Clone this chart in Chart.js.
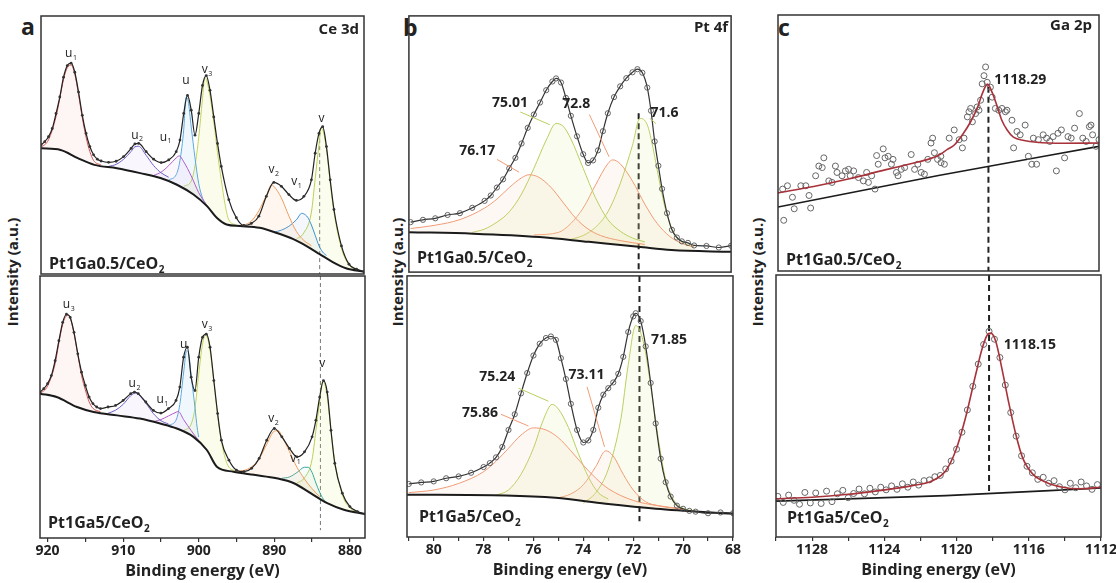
<!DOCTYPE html>
<html>
<head>
<meta charset="utf-8">
<script src="https://cdn.jsdelivr.net/npm/chart.js@4.4.1/dist/chart.umd.min.js"></script>
<style>
  html, body { margin: 0; padding: 0; background: #fff; }
  body { position: relative; width: 1116px; height: 583px; overflow: hidden; font-family: "Open Sans", sans-serif; color: #222; }
  canvas { position: absolute; }
  .letter { position: absolute; font-weight: bold; font-size: 23px; line-height: 1; }
  .ytitle { position: absolute; font-weight: bold; font-size: 15px; white-space: nowrap; transform: translate(-50%, -50%) rotate(-90deg); }
</style>
</head>
<body>
<div class="letter" style="left:21px;top:15px">a</div>
<div class="letter" style="left:403px;top:16px">b</div>
<div class="letter" style="left:778px;top:16px">c</div>
<div class="ytitle" style="left:12px;top:272px">Intensity (a.u.)</div>
<div class="ytitle" style="left:397px;top:272px">Intensity (a.u.)</div>
<div class="ytitle" style="left:757px;top:272px">Intensity (a.u.)</div>
<script>
// ---- panel a: Ce 3d ----
const ceRange = [878, 921];
const ceX = [921, 920.5, 920, 919.5, 919, 918.5, 918, 917.5, 917, 916.5,
  916, 915.5, 915, 914.5, 914, 913.5, 913, 912, 911, 910,
  909, 908.5, 908, 907, 906, 905, 904, 903, 902.5, 902,
  901.5, 901, 900.5, 900, 899.5, 899, 898.5, 898, 897.5, 897,
  896, 895, 894, 893, 892, 891, 890, 889, 888, 887,
  886, 885, 884.5, 884, 883.5, 883, 882.5, 882, 881, 880, 879, 878];
const ceTopFit = [50.0, 51.3, 53.2, 56.4, 62.2, 68.6, 76.3, 80.8, 81.7, 78.2,
  70.5, 61.5, 54.5, 49.4, 46.2, 44.5, 43.8, 43.3, 43.7, 45.5,
  48.7, 50.4, 50.6, 47.4, 44.5, 43.2, 44.2, 47.4, 51.9, 62.2,
  69.2, 63.5, 53.8, 62.2, 73.1, 76.9, 71.2, 60.9, 50.6, 41.7,
  28.8, 21.8, 18.8, 19.6, 22.4, 30.1, 35.5, 34.0, 30.8, 28.5,
  30.1, 36.5, 46.8, 54.5, 57.1, 49.4, 36.5, 25.0, 10.9, 3.8, 1.9, 0.9];
const ceBotFit = [55.7, 57.0, 58.9, 62.0, 67.7, 75.3, 82.3, 85.4, 84.2, 78.5,
  70.3, 63.3, 58.2, 53.8, 51.3, 50.0, 49.4, 50.0, 50.6, 52.5,
  55.1, 55.7, 55.1, 51.9, 48.7, 47.7, 49.4, 52.5, 57.6, 69.0,
  72.8, 61.4, 56.3, 69.0, 76.6, 77.8, 72.8, 60.1, 47.5, 37.3,
  29.7, 25.9, 25.3, 26.6, 30.4, 37.3, 41.8, 38.6, 34.2, 31.0,
  32.9, 38.6, 44.9, 53.8, 60.1, 55.7, 41.1, 28.5, 17.1, 12.0, 10.1, 9.2];
const ceTopBgX = [921, 918.4, 916.1, 913.9, 910.9, 907.8, 905.1, 902.9, 900.7, 898.9, 897.6, 896.3, 894.5, 891.9, 889.7, 887.4, 885.7, 883.9, 882.1, 880.4, 878];
const ceTopBg = [48.7, 48.1, 44.9, 42.3, 41.0, 39.1, 37.2, 34.6, 30.8, 26.3, 21.8, 19.2, 18.6, 17.9, 16.0, 13.5, 10.9, 7.7, 4.5, 2.2, 0.9];
const ceBotBgX = [921, 918.8, 916.1, 913.9, 910.8, 907.8, 905.1, 902.9, 900.7, 898.9, 897.6, 895.4, 892.7, 889.7, 887.4, 885.2, 883, 880.8, 878];
const ceBotBg = [55.1, 53.8, 50.0, 48.1, 46.8, 45.6, 43.7, 41.8, 38.6, 33.5, 27.2, 25.3, 24.1, 22.8, 20.9, 17.1, 13.3, 10.8, 9.2];

const ceTopU3X = [921, 920, 919, 918.5, 918, 917.5, 917, 916.5, 916, 915.5, 915, 914.5, 914, 913];
const ceTopU3 = [49, 52, 61, 68, 75.5, 80, 81, 77.5, 69.5, 60.5, 53, 47.5, 44, 42.2];
const ceTopU2X = [912, 911, 910, 909, 908.5, 908, 907, 906, 905, 904];
const ceTopU2 = [41.7, 42.5, 44.5, 47.5, 49.3, 49.5, 46, 42, 39.2, 37.5];
const ceTopU1X = [906, 905, 904, 903, 902.6, 902, 901, 900, 899, 898.5];
const ceTopU1 = [38.2, 39.5, 42, 45, 45.8, 43.5, 38, 31.5, 27, 25];
const ceTopUX = [904, 903, 902.5, 902, 901.7, 901.4, 901, 900.5, 900, 899.5, 899];
const ceTopU = [36.5, 38.5, 44, 56, 68.5, 67, 57, 45, 35, 29.5, 26.8];
const ceTopV3X = [902, 901, 900.5, 900, 899.5, 899.2, 899, 898.5, 898, 897.5, 897, 896.5, 896, 895];
const ceTopV3 = [34, 36, 42, 53, 68, 76, 75.5, 69, 59, 47, 36.5, 27, 21, 19];
const ceTopV2X = [895, 894, 893, 892, 891, 890.3, 890, 889, 888, 887, 886, 885];
const ceTopV2 = [18.7, 19, 20.5, 24.5, 30.5, 34.5, 34, 29.5, 22.5, 16.5, 13, 11];
const ceTopV1X = [890, 889, 888, 887, 886.3, 886, 885.5, 885, 884.5, 884, 883.5, 883];
const ceTopV1 = [16.2, 17, 18.5, 21, 23.5, 23.3, 22, 19, 15, 11, 8.5, 7.2];
const ceTopVX = [887, 886, 885, 884.5, 884, 883.7, 883.5, 883, 882.5, 882, 881, 880, 879];
const ceTopV = [13.5, 16, 24, 37, 50, 56.5, 56, 48.5, 35.5, 24, 10, 3.5, 1.6];

const ceBotU3X = [921, 920, 919, 918.5, 918, 917.5, 917.2, 917, 916.5, 916, 915.5, 915, 914.5, 914, 913];
const ceBotU3 = [55, 58, 66.5, 74.5, 81.5, 84.8, 85, 84, 78, 70, 62, 56.5, 52, 49.5, 48.2];
const ceBotU2X = [912, 911, 910, 909, 908.4, 908, 907, 906, 905, 904];
const ceBotU2 = [47.6, 48.8, 51, 54.3, 55.3, 54.8, 51.5, 47.5, 44.8, 43.5];
const ceBotU1X = [906, 905, 904, 903, 902.7, 902, 901, 900, 899];
const ceBotU1 = [44.4, 45.2, 46.6, 48, 48.3, 45.2, 41, 37.2, 34];
const ceBotUX = [904, 903, 902.5, 902, 901.6, 901.3, 901, 900.5, 900.2, 900];
const ceBotU = [43, 45, 51, 63, 71.5, 70, 62, 50, 42, 38.5];
const ceBotV3X = [902, 901, 900.5, 900, 899.5, 899.1, 898.8, 898.5, 898, 897.5, 897, 896.5, 896, 895];
const ceBotV3 = [41, 43.5, 49.5, 62.5, 74, 77.3, 76, 71.5, 60, 47, 37, 30.5, 27, 25.6];
const ceBotV2X = [895, 894, 893, 892, 891, 890, 889.5, 889, 888, 887, 886, 885, 884];
const ceBotV2 = [25.4, 25.8, 27.2, 30.2, 35.8, 40.8, 41, 39, 33, 27, 22.5, 18.8, 15.8];
const ceBotV1X = [889, 888, 887, 886, 885.5, 885, 884.5, 884, 883.5, 883];
const ceBotV1 = [22.8, 23.3, 25, 27, 27, 25, 21, 17.5, 14.8, 13.4];
const ceBotVX = [887, 886, 885, 884.5, 884, 883.7, 883.5, 883, 882.5, 882, 881, 880, 879];
const ceBotV = [21, 23, 30, 41, 52, 59, 59.5, 54, 41, 29.5, 16.5, 11.5, 9.8];
const ceRefE = 883.9;

// ---- panel b: Pt 4f ----
const ptRange = [68, 81.07];
const ptTopX = [81, 80.5, 80, 79.5, 79, 78.5, 78, 77.75, 77.5, 77.25,
  77, 76.75, 76.5, 76.25, 76, 75.75, 75.5, 75.25, 75.1, 74.9,
  74.7, 74.5, 74.25, 74, 73.8, 73.6, 73.4, 73.2, 73, 72.75,
  72.5, 72.25, 72, 71.8, 71.6, 71.4, 71.25, 71.1, 70.95, 70.8,
  70.6, 70.4, 70.2, 70, 69.75, 69.5, 69, 68.5, 68];
const ptTopFit = [19.5, 20.4, 21.0, 22.3, 23.0, 25.1, 27.8, 29.9, 33.0, 36.2,
  40.5, 44.6, 50.2, 56.3, 61.5, 66.2, 71.0, 74.4, 75.6, 74.0,
  68.0, 61.0, 53.0, 46.0, 42.6, 43.6, 47.5, 55.0, 62.0, 68.3,
  72.5, 75.7, 78.0, 79.2, 77.8, 72.0, 63.0, 51.0, 41.5, 32.5,
  23.0, 16.5, 13.5, 12.0, 11.4, 10.4, 10.2, 9.6, 10.3];
const ptBotX = [81, 80.5, 80, 79.5, 79, 78.5, 78, 77.75, 77.5, 77.25,
  77, 76.75, 76.5, 76.25, 76, 75.75, 75.5, 75.3, 75.1, 74.9,
  74.7, 74.5, 74.25, 74, 73.8, 73.6, 73.4, 73.2, 73, 72.8,
  72.6, 72.4, 72.2, 72, 71.9, 71.7, 71.5, 71.3, 71.1, 70.9,
  70.7, 70.5, 70.25, 70, 69.75, 69.5, 69, 68.5, 68];
const ptBotFit = [20.3, 20.9, 21.3, 22.5, 23.2, 24.6, 26.8, 28.3, 30.5, 34.5,
  41.0, 47.0, 55.0, 62.8, 69.5, 74.0, 76.2, 76.8, 75.5, 68.5,
  60.5, 51.0, 41.0, 36.2, 37.0, 41.0, 49.5, 54.5, 57.0, 59.2,
  62.5, 69.0, 78.5, 84.5, 85.7, 82.7, 73.0, 59.0, 43.5, 30.0,
  21.0, 15.5, 12.0, 10.8, 10.0, 9.7, 9.1, 9.4, 9.1];
const ptTopBgX = [81.07, 78.46, 75.78, 73.77, 71.76, 70.42, 68];
const ptTopBg = [15.6, 15.0, 13.7, 11.8, 9.9, 8.6, 7.9];
const ptBotBgX = [81.07, 77.12, 75.11, 73.1, 71.09, 68];
const ptBotBg = [16.2, 15.9, 15.0, 12.7, 10.8, 8.9];

const ptTop7617X = [81, 80, 79, 78, 77.5, 77, 76.5, 76.2, 75.8, 75.3, 74.8, 74.3, 73.8, 73.3, 72.5, 71.5];
const ptTop7617 = [17, 18.3, 20.5, 25, 28.5, 33, 36.8, 38, 37, 33, 27, 21, 16.8, 14.3, 12.3, 10.8];
const ptTop7501X = [78.5, 78, 77.5, 77, 76.5, 76, 75.5, 75.1, 74.8, 74.5, 74, 73.5, 73, 72.5, 72, 71.5];
const ptTop7501 = [15.5, 16.8, 19.5, 23.5, 30.5, 40.5, 51.5, 58, 56.8, 52, 40.5, 29, 20.5, 16, 13.3, 11.8];
const ptTop728X = [76, 75, 74.5, 74, 73.5, 73, 72.8, 72.5, 72, 71.5, 71, 70.5, 70, 69.5];
const ptTop728 = [14.5, 15.5, 19, 25, 34, 42.3, 43.8, 42.3, 35.5, 26.5, 19, 14, 11.2, 9.8];
const ptTop716X = [74.5, 74, 73.5, 73, 72.5, 72, 71.7, 71.4, 71.2, 71, 70.7, 70.4, 70, 69.5];
const ptTop716 = [12.8, 14.3, 17.5, 23.5, 34.5, 49.5, 60, 57.5, 50, 40, 26, 17, 11.8, 9.8];

const ptBot7586X = [81, 80, 79, 78, 77.5, 77, 76.5, 76, 75.5, 75, 74.5, 74, 73.5, 73, 72, 71, 70];
const ptBot7586 = [17, 18, 20.5, 25, 29, 34, 39, 41.8, 41, 38, 33, 27.5, 22.5, 18.5, 14, 12, 10.8];
const ptBot7524X = [77.5, 77, 76.5, 76, 75.6, 75.25, 75, 74.6, 74.2, 73.8, 73.4, 73];
const ptBot7524 = [16, 18, 24, 34, 45, 50.8, 49, 42, 32, 23, 17, 14.5];
const ptBot7311X = [75, 74.5, 74, 73.5, 73.1, 72.8, 72.4, 72, 71.5, 71, 70];
const ptBot7311 = [15, 16.5, 20, 27, 33, 31, 24, 18, 13.5, 12, 10.5];
const ptBot7185X = [74, 73.5, 73, 72.5, 72.2, 71.9, 71.6, 71.3, 71, 70.7, 70.4, 70, 69.5];
const ptBot7185 = [13, 17, 26, 45, 66, 81, 75, 58, 38, 22, 14.5, 11, 10];
const ptRefE = 71.75;

// ---- panel c: Ga 2p ----
const gaRange = [1112, 1130];
const gaTopFitX = [1130, 1128, 1126, 1124, 1122.5, 1121.5, 1121, 1120.5, 1120.1, 1119.6, 1119.2, 1118.8, 1118.55, 1118.25, 1118, 1117.7, 1117.45, 1117.15, 1116.8, 1116.2, 1115.5, 1114, 1112];
const gaTopFit = [30.5, 33.0, 36.0, 39.5, 42.0, 43.8, 45.2, 47.5, 49.3, 53.8, 58.3, 64.1, 69.2, 73.0, 69.9, 64.1, 58.9, 55.1, 52.3, 51.0, 50.3, 49.9, 50.0];
const gaTopBgX = [1130, 1121, 1112];
const gaTopBg = [25.0, 37.3, 48.7];
const gaTopPtX = [1129.74, 1129.68, 1129.47, 1129.19, 1129.09, 1128.72, 1128.44, 1128.26, 1128.17, 1127.89,
  1127.71, 1127.52, 1127.43, 1127.15, 1126.97, 1126.78, 1126.69, 1126.41, 1126.22, 1126.04,
  1125.95, 1125.76, 1125.49, 1125.21, 1125.03, 1124.93, 1124.75, 1124.56, 1124.47, 1124.38,
  1124.1, 1124.0, 1123.82, 1123.64, 1123.55, 1123.36, 1123.27, 1123.09, 1122.9, 1122.53,
  1122.34, 1122.16, 1121.97, 1121.79, 1121.6, 1121.42, 1121.33, 1121.23, 1121.05, 1120.87,
  1120.86, 1120.67, 1120.4, 1120.12, 1119.84, 1119.66, 1119.57, 1119.38, 1119.29, 1119.2,
  1119.1, 1118.92, 1118.83, 1118.73, 1118.64, 1118.55, 1118.45, 1118.36, 1118.27, 1118.09,
  1117.99, 1117.81, 1117.62, 1117.44, 1117.25, 1117.16, 1116.88, 1116.79, 1116.6, 1116.42,
  1116.14, 1115.96, 1115.77, 1115.68, 1115.5, 1115.4, 1115.13, 1114.94, 1114.76, 1114.57,
  1114.39, 1114.3, 1114.11, 1113.93, 1113.74, 1113.56, 1113.37, 1113.1, 1112.91, 1112.72,
  1112.54, 1112.45, 1112.36, 1112.17, 1112.0];
const gaTopPtY = [32.0, 19.8, 33.3, 28.8, 24.3, 33.3, 33.3, 29.5, 24.6, 37.2,
  41.0, 40.4, 44.2, 35.2, 34.6, 41.0, 38.5, 37.2, 39.1, 39.7,
  37.2, 39.1, 36.5, 35.2, 38.5, 34.6, 37.2, 32.0, 45.1, 41.7,
  47.7, 44.2, 44.8, 41.7, 43.6, 38.5, 37.2, 39.7, 40.4, 45.5,
  39.7, 41.7, 38.5, 37.8, 43.6, 50.0, 51.9, 46.2, 43.6, 44.8,
  42.3, 41.7, 51.9, 55.1, 51.3, 48.1, 51.9, 60.2, 62.2, 63.5,
  58.3, 61.5, 64.1, 62.8, 66.7, 73.1, 76.3, 79.7, 73.7, 71.8,
  67.9, 63.5, 62.8, 63.5, 62.2, 62.8, 58.9, 48.1, 54.5, 53.2,
  57.0, 44.8, 41.7, 51.9, 41.7, 51.3, 53.2, 51.9, 50.6, 52.5,
  39.1, 53.8, 55.1, 44.2, 52.5, 51.9, 55.8, 61.5, 51.9, 50.6,
  56.4, 57.0, 53.2, 48.7, 51.3];
const gaBotFitX = [1130, 1128, 1126.15, 1124.3, 1122.45, 1121.34, 1120.6, 1120.05, 1119.5, 1118.94, 1118.57, 1118.29, 1118.1, 1117.83, 1117.46, 1117.09, 1116.72, 1116.35, 1115.79, 1115.05, 1114.13, 1113.2, 1112];
const gaBotFit = [14.6, 15.2, 16.2, 17.7, 19.6, 21.5, 25.3, 32.9, 45.6, 62.0, 72.2, 77.2, 77.8, 74.7, 63.3, 50.6, 39.2, 30.4, 24.1, 20.9, 19.0, 18.4, 19.0];
const gaBotBgX = [1130, 1120.6, 1112];
const gaBotBg = [13.7, 15.8, 18.7];
const gaBotPtX = [1129.9, 1129.6, 1129.3, 1129.0, 1128.7, 1128.4, 1128.1, 1127.8, 1127.5, 1127.2,
  1126.9, 1126.6, 1126.3, 1126.0, 1125.7, 1125.4, 1125.1, 1124.8, 1124.5, 1124.2,
  1123.9, 1123.6, 1123.3, 1123.0, 1122.7, 1122.4, 1122.1, 1121.8, 1121.5, 1121.2,
  1120.9, 1120.6, 1120.3, 1120.0, 1119.7, 1119.4, 1119.1, 1118.8, 1118.5, 1118.2,
  1117.9, 1117.6, 1117.3, 1117.0, 1116.7, 1116.4, 1116.1, 1115.8, 1115.5, 1115.2,
  1114.9, 1114.6, 1114.3, 1114.0, 1113.7, 1113.4, 1113.1, 1112.8, 1112.5, 1112.2];
const gaBotPtY = [15.5, 13.2, 16.0, 14.0, 12.5, 17.0, 13.0, 16.8, 12.8, 17.5,
  13.5, 16.5, 17.8, 15.0, 16.6, 18.3, 16.5, 18.6, 17.2, 19.0,
  18.0, 19.5, 18.2, 20.3, 19.0, 21.0, 19.8, 21.5, 21.8, 23.0,
  23.5, 26.0, 29.0, 33.5, 40.0, 48.5, 57.5, 66.0, 73.5, 78.5,
  75.5, 68.5, 58.0, 47.5, 38.5, 31.0, 27.0, 24.5, 22.0, 22.8,
  20.5, 21.5, 19.2, 18.0, 20.5, 18.8, 21.0, 19.5, 18.2, 20.0];
const gaRefE = 1118.2;

// ---------------------------------------------------------------
const FONT = '"Open Sans", sans-serif';
Chart.defaults.font.family = FONT;
Chart.defaults.color = "#222";

const pts = (xs, ys) => xs.map((x, i) => ({ x: x, y: ys[i] }));

function curve(xs, ys, color, width, fillColor) {
  return {
    data: pts(xs, ys),
    borderColor: color,
    borderWidth: width,
    pointRadius: 0,
    cubicInterpolationMode: "monotone",
    fill: fillColor ? 1 : false,
    backgroundColor: fillColor || "transparent",
  };
}

function dash(x, y1, y2, color, width, pattern) {
  return {
    data: [{ x: x, y: y1 }, { x: x, y: y2 }],
    borderColor: color,
    borderWidth: width,
    borderDash: pattern,
    pointRadius: 0,
    fill: false,
  };
}

function drawText(ctx, main, sub, x, y, size, weight, align, color) {
  const subSize = Math.round(size * 0.62);
  ctx.font = `${weight} ${size}px ${FONT}`;
  const w1 = ctx.measureText(main).width;
  let w2 = 0;
  if (sub) {
    ctx.font = `${weight} ${subSize}px ${FONT}`;
    w2 = ctx.measureText(sub).width + 0.5;
  }
  const total = w1 + w2;
  const x0 = align === "center" ? x - total / 2 : align === "right" ? x - total : x;
  ctx.fillStyle = color;
  ctx.textAlign = "left";
  ctx.textBaseline = "alphabetic";
  ctx.font = `${weight} ${size}px ${FONT}`;
  ctx.fillText(main, x0, y);
  if (sub) {
    ctx.font = `${weight} ${subSize}px ${FONT}`;
    ctx.fillText(sub, x0 + w1 + 0.5, y + size * 0.22);
  }
}

function decoPlugin(notes) {
  return {
    id: "deco",
    afterDraw(chart) {
      const ctx = chart.ctx;
      const a = chart.chartArea;
      const sx = chart.scales.x;
      const sy = chart.scales.y;
      ctx.save();
      notes.forEach((n) => {
        if (n.lead) {
          ctx.strokeStyle = n.color;
          ctx.lineWidth = 1;
          ctx.beginPath();
          ctx.moveTo(sx.getPixelForValue(n.lead[0]), sy.getPixelForValue(n.lead[1]));
          ctx.lineTo(sx.getPixelForValue(n.lead[2]), sy.getPixelForValue(n.lead[3]));
          ctx.stroke();
          return;
        }
        let px, py;
        if (n.corner === "bl") {
          px = a.left + n.dx;
          py = a.bottom + n.dy;
        } else if (n.corner === "tr") {
          px = a.right + n.dx;
          py = a.top + n.dy;
        } else {
          px = sx.getPixelForValue(n.x);
          py = sy.getPixelForValue(n.y);
        }
        drawText(ctx, n.t, n.s, px, py, n.size, n.w || "bold", n.align || "center", "#222");
      });
      ctx.strokeStyle = "#333";
      ctx.lineWidth = 1.5;
      ctx.strokeRect(a.left, a.top, a.right - a.left, a.bottom - a.top);
      ctx.restore();
    },
  };
}

function addCanvas(left, top, w, h) {
  const c = document.createElement("canvas");
  c.width = w;
  c.height = h;
  c.style.left = left + "px";
  c.style.top = top + "px";
  c.style.width = w + "px";
  c.style.height = h + "px";
  document.body.appendChild(c);
  return c;
}

const AXIS_H = 43;

function subplot(frame, range, axis, datasets, notes) {
  const side = axis ? 22 : 3;
  const canvas = addCanvas(
    frame.l - side,
    frame.t - 3,
    frame.r - frame.l + 2 * side,
    frame.b - frame.t + 3 + (axis ? AXIS_H : 3)
  );
  return new Chart(canvas, {
    type: "line",
    data: { datasets: datasets },
    options: {
      responsive: false,
      animation: false,
      events: [],
      layout: { padding: { left: side, right: side, top: 3, bottom: axis ? 0 : 3 } },
      plugins: { legend: { display: false }, tooltip: { enabled: false } },
      scales: {
        x: {
          type: "linear",
          reverse: true,
          min: range[0],
          max: range[1],
          display: !!axis,
          border: { display: false },
          grid: { drawOnChartArea: false, drawTicks: true, tickLength: 4, color: "#333", lineWidth: 1.2 },
          ticks: axis
            ? {
                stepSize: axis.step,
                includeBounds: false,
                autoSkip: false,
                maxRotation: 0,
                padding: 1,
                color: "#222",
                font: { size: 14, weight: "bold" },
                callback: (v) => (v % axis.major === 0 ? String(v) : ""),
              }
            : {},
          title: {
            display: !!axis,
            text: "Binding energy (eV)",
            color: "#222",
            font: { size: 16, weight: "bold" },
            padding: 0,
          },
          afterFit: (s) => {
            if (axis) s.height = AXIS_H;
          },
        },
        y: { display: false, min: 0, max: 100 },
      },
    },
    plugins: [decoPlugin(notes)],
  });
}

// ---- panel a ----
const envA = (ys) => ({
  data: pts(ceX, ys),
  borderColor: "#222",
  borderWidth: 1.2,
  pointRadius: 1.4,
  pointBackgroundColor: "#333",
  pointBorderWidth: 0,
  cubicInterpolationMode: "monotone",
  fill: false,
});
const bgLine = (xs, ys, w) => ({
  data: pts(xs, ys),
  borderColor: "#1b1b1b",
  borderWidth: w,
  pointRadius: 0,
  cubicInterpolationMode: "monotone",
  fill: false,
});

subplot({ l: 40, r: 365, t: 15, b: 275 }, ceRange, null, [
  envA(ceTopFit),
  bgLine(ceTopBgX, ceTopBg, 2),
  curve(ceTopU3X, ceTopU3, "#d9534f", 1, "rgba(235,120,120,0.07)"),
  curve(ceTopU2X, ceTopU2, "#6c5fc7", 1, "rgba(150,120,220,0.06)"),
  curve(ceTopU1X, ceTopU1, "#b05cc8", 1, "rgba(200,120,220,0.06)"),
  curve(ceTopUX, ceTopU, "#5aa9e0", 1, "rgba(120,190,235,0.10)"),
  curve(ceTopV3X, ceTopV3, "#c4d45a", 1, "rgba(225,235,120,0.14)"),
  curve(ceTopV2X, ceTopV2, "#ef9d5c", 1, "rgba(245,180,120,0.12)"),
  curve(ceTopV1X, ceTopV1, "#3d8fd6", 1, "rgba(120,170,230,0.08)"),
  curve(ceTopVX, ceTopV, "#b9cf55", 1, "rgba(220,235,120,0.12)"),
  dash(ceRefE, 55, 0, "#777", 1, [4, 3]),
], [
  { t: "Ce 3d", corner: "tr", dx: -5, dy: 18, size: 15, align: "right" },
  { t: "Pt1Ga0.5/CeO", s: "2", corner: "bl", dx: 8, dy: -5, size: 16, align: "left" },
  { t: "u", s: "1", x: 917.0, y: 84, size: 12, w: "normal" },
  { t: "u", s: "2", x: 908.2, y: 52.5, size: 12, w: "normal" },
  { t: "u", s: "1", x: 904.4, y: 51.7, size: 12, w: "normal" },
  { t: "u", x: 901.7, y: 73.7, size: 12, w: "normal" },
  { t: "v", s: "3", x: 898.9, y: 77.9, size: 12, w: "normal" },
  { t: "v", s: "2", x: 890.0, y: 39.1, size: 12, w: "normal" },
  { t: "v", s: "1", x: 887.0, y: 34.5, size: 12, w: "normal" },
  { t: "v", x: 883.65, y: 59.1, size: 12, w: "normal" },
]);

subplot({ l: 40, r: 365, t: 275, b: 538 }, ceRange, { step: 5, major: 10 }, [
  envA(ceBotFit),
  bgLine(ceBotBgX, ceBotBg, 2),
  curve(ceBotU3X, ceBotU3, "#d9534f", 1, "rgba(235,120,120,0.07)"),
  curve(ceBotU2X, ceBotU2, "#6c5fc7", 1, "rgba(150,120,220,0.06)"),
  curve(ceBotU1X, ceBotU1, "#b05cc8", 1, "rgba(200,120,220,0.06)"),
  curve(ceBotUX, ceBotU, "#5aa9e0", 1, "rgba(120,190,235,0.10)"),
  curve(ceBotV3X, ceBotV3, "#c4d45a", 1, "rgba(225,235,120,0.14)"),
  curve(ceBotV2X, ceBotV2, "#ef9d5c", 1, "rgba(245,180,120,0.12)"),
  curve(ceBotV1X, ceBotV1, "#3aa6a0", 1, "rgba(120,200,200,0.08)"),
  curve(ceBotVX, ceBotV, "#b9cf55", 1, "rgba(220,235,120,0.12)"),
  dash(ceRefE, 100, 3, "#777", 1, [4, 3]),
], [
  { t: "Pt1Ga5/CeO", s: "2", corner: "bl", dx: 8, dy: -10, size: 16, align: "left" },
  { t: "u", s: "3", x: 917.2, y: 87.7, size: 12, w: "normal" },
  { t: "u", s: "2", x: 908.5, y: 57.6, size: 12, w: "normal" },
  { t: "u", s: "1", x: 904.8, y: 51.5, size: 12, w: "normal" },
  { t: "u", x: 902.0, y: 72.7, size: 12, w: "normal" },
  { t: "v", s: "3", x: 898.9, y: 80.1, size: 12, w: "normal" },
  { t: "v", s: "2", x: 890.1, y: 44.3, size: 12, w: "normal" },
  { t: "v", s: "1", x: 887.2, y: 29.1, size: 12, w: "normal" },
  { t: "v", x: 883.65, y: 65.2, size: 12, w: "normal" },
]);

// ---- panel b ----
const ORANGE = "#f19b76", ORANGE_F = "rgba(248,190,150,0.10)";
const GREEN = "#b7d05e", GREEN_F = "rgba(225,238,160,0.16)";
const envB = (xs, ys) => ({
  data: pts(xs, ys),
  borderColor: "#333",
  borderWidth: 1.2,
  pointRadius: 2.6,
  pointBackgroundColor: "rgba(255,255,255,0)",
  pointBorderColor: "#555",
  pointBorderWidth: 0.9,
  cubicInterpolationMode: "monotone",
  fill: false,
});

subplot({ l: 407, r: 733, t: 14, b: 274 }, ptRange, null, [
  envB(ptTopX, ptTopFit),
  bgLine(ptTopBgX, ptTopBg, 2),
  curve(ptTop7617X, ptTop7617, ORANGE, 1, ORANGE_F),
  curve(ptTop7501X, ptTop7501, GREEN, 1, GREEN_F),
  curve(ptTop728X, ptTop728, ORANGE, 1, ORANGE_F),
  curve(ptTop716X, ptTop716, GREEN, 1, GREEN_F),
  dash(ptRefE, 62, 0, "#222", 2, [6, 4]),
], [
  { t: "Pt 4f", corner: "tr", dx: -3, dy: 16, size: 15, align: "right" },
  { t: "Pt1Ga0.5/CeO", s: "2", corner: "bl", dx: 8, dy: -9, size: 16, align: "left" },
  { lead: [76.55, 62.5, 75.35, 57.5], color: GREEN },
  { lead: [77.5, 44, 76.6, 39], color: ORANGE },
  { lead: [73.75, 61.5, 72.95, 45], color: ORANGE },
  { lead: [71.3, 60, 71.05, 58], color: GREEN },
  { t: "75.01", x: 76.97, y: 64.6, size: 14 },
  { t: "72.8", x: 74.28, y: 63.9, size: 14 },
  { t: "71.6", x: 70.7, y: 60.4, size: 14 },
  { t: "76.17", x: 78.3, y: 45.8, size: 14 },
]);

subplot({ l: 407, r: 733, t: 274, b: 537 }, ptRange, { step: 1, major: 2 }, [
  envB(ptBotX, ptBotFit),
  bgLine(ptBotBgX, ptBotBg, 2),
  curve(ptBot7586X, ptBot7586, ORANGE, 1, ORANGE_F),
  curve(ptBot7524X, ptBot7524, GREEN, 1, GREEN_F),
  curve(ptBot7311X, ptBot7311, ORANGE, 1, ORANGE_F),
  curve(ptBot7185X, ptBot7185, GREEN, 1, GREEN_F),
  dash(ptRefE, 100, 6, "#222", 2, [6, 4]),
], [
  { t: "Pt1Ga5/CeO", s: "2", corner: "bl", dx: 12, dy: -15, size: 16, align: "left" },
  { lead: [76.6, 57, 75.4, 52], color: GREEN },
  { lead: [77.3, 47, 76.2, 42.5], color: ORANGE },
  { lead: [73.85, 57.5, 73.15, 34.5], color: ORANGE },
  { t: "71.85", x: 70.57, y: 74.1, size: 14 },
  { t: "73.11", x: 73.87, y: 60.5, size: 14 },
  { t: "75.24", x: 77.45, y: 59.7, size: 14 },
  { t: "75.86", x: 78.14, y: 46.0, size: 14 },
]);

// ---- panel c ----
const fitC = (xs, ys) => ({
  data: pts(xs, ys),
  borderColor: "#a8323a",
  borderWidth: 1.6,
  pointRadius: 0,
  cubicInterpolationMode: "monotone",
  fill: false,
});
const dotsC = (xs, ys) => ({
  data: pts(xs, ys),
  showLine: false,
  pointRadius: 3,
  pointBackgroundColor: "rgba(255,255,255,0)",
  pointBorderColor: "#666",
  pointBorderWidth: 1,
});

subplot({ l: 776, r: 1101, t: 13, b: 273 }, gaRange, null, [
  fitC(gaTopFitX, gaTopFit),
  dotsC(gaTopPtX, gaTopPtY),
  bgLine(gaTopBgX, gaTopBg, 1.6),
  dash(gaRefE, 72, 0, "#222", 2, [6, 4]),
], [
  { t: "Ga 2p", corner: "tr", dx: -7, dy: 15, size: 15, align: "right" },
  { t: "Pt1Ga0.5/CeO", s: "2", corner: "bl", dx: 8, dy: -6, size: 16, align: "left" },
  { t: "1118.29", x: 1117.88, y: 73.2, size: 14, align: "left" },
]);

subplot({ l: 776, r: 1101, t: 273, b: 537 }, gaRange, { step: 2, major: 4 }, [
  fitC(gaBotFitX, gaBotFit),
  dotsC(gaBotPtX, gaBotPtY),
  bgLine(gaBotBgX, gaBotBg, 1.6),
  dash(gaRefE, 100, 17, "#222", 2, [6, 4]),
], [
  { t: "Pt1Ga5/CeO", s: "2", corner: "bl", dx: 11, dy: -14, size: 16, align: "left" },
  { t: "1118.15", x: 1117.38, y: 71.7, size: 14, align: "left" },
]);
</script>
</body>
</html>
